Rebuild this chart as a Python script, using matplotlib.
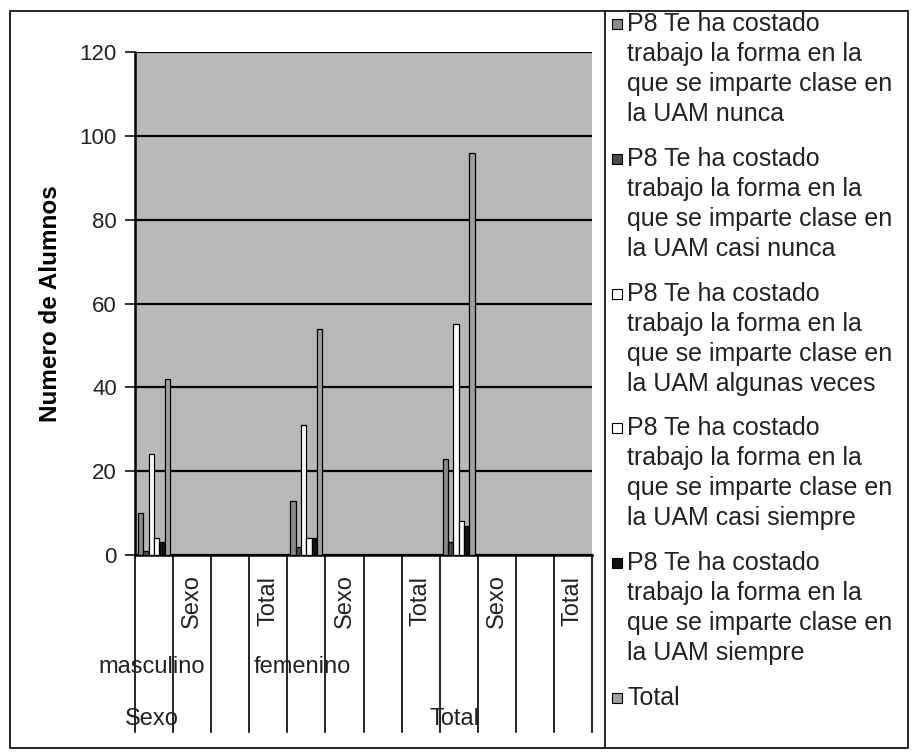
import textwrap
import numpy as np
import matplotlib
matplotlib.use("Agg")
import matplotlib.pyplot as plt
from matplotlib.patches import Rectangle
from matplotlib.lines import Line2D

plt.rcParams['font.family'] = ['Liberation Sans', 'DejaVu Sans']

# data
level1 = ["", "Sexo", "", "Total", "", "Sexo", "", "Total", "", "Sexo", "", "Total"]
level2 = ["masculino", "femenino"]
level2_pos = [-0.05, 3.9]
level3 = ["Sexo", "Total"]
level3_pos = [-0.05, 7.9]

series_names = [
    "P8 Te ha costado trabajo la forma en la que se imparte clase en la UAM nunca",
    "P8 Te ha costado trabajo la forma en la que se imparte clase en la UAM casi nunca",
    "P8 Te ha costado trabajo la forma en la que se imparte clase en la UAM algunas veces",
    "P8 Te ha costado trabajo la forma en la que se imparte clase en la UAM casi siempre",
    "P8 Te ha costado trabajo la forma en la que se imparte clase en la UAM siempre",
    "Total",
]
nunca = [10, 0, 0, 0, 13, 0, 0, 0, 23, 0, 0, 0]
casi_nunca = [1, 0, 0, 0, 2, 0, 0, 0, 3, 0, 0, 0]
algunas = [24, 0, 0, 0, 31, 0, 0, 0, 55, 0, 0, 0]
casi_siempre = [4, 0, 0, 0, 4, 0, 0, 0, 8, 0, 0, 0]
siempre = [3, 0, 0, 0, 4, 0, 0, 0, 7, 0, 0, 0]
total = [42, 0, 0, 0, 54, 0, 0, 0, 96, 0, 0, 0]
series = [nunca, casi_nunca, algunas, casi_siempre, siempre, total]
colors = ["#8a8a8a", "#4a4a4a", "#ffffff", "#ffffff", "#111111", "#a0a0a0"]

W, H = 914, 754
fig = plt.figure(figsize=(W / 100, H / 100), dpi=100)
fig.patch.set_facecolor("white")


def fx(px):
    return px / W


def fy(py):
    return 1 - py / H


ax = fig.add_axes([fx(135), fy(555), (592 - 135) / W, (555 - 52) / H])
ax.set_facecolor("#b8b8b8")

x = np.arange(len(level1))
w = 0.14
for i, (vals, c) in enumerate(zip(series, colors)):
    ax.bar(x + (i - 2.5) * w, vals, w, color=c, edgecolor="black", linewidth=0.9, zorder=3)

ax.set_xlim(-0.5, len(level1) - 0.5)
ax.set_ylim(0, 120)
ax.set_yticks(range(0, 121, 20))
ax.yaxis.grid(True, color="black", linewidth=1.6, zorder=1)
ax.set_axisbelow(True)
ax.tick_params(axis="y", direction="out", length=7, width=1.3, labelsize=16, pad=6, colors="#222222")
ax.set_xticks([])
for s in ["top", "right"]:
    ax.spines[s].set_visible(False)
ax.spines["left"].set_linewidth(1.8)
ax.spines["bottom"].set_linewidth(1.8)
ax.set_ylabel("Numero de Alumnos", fontsize=17.5, fontweight="bold", labelpad=13)

# multi-level category axis
tr = ax.get_xaxis_transform()
ah = 555 - 52
for b in np.arange(len(level1) + 1) - 0.5:
    ax.add_line(Line2D([b, b], [0, -(732 - 555) / ah], transform=tr, color="black",
                       linewidth=1.2, clip_on=False))
for xi, lab in zip(x, level1):
    if lab:
        ax.text(xi, -(601 - 555) / ah, lab, transform=tr, rotation=90, ha="center",
                va="center", fontsize=17, color="#222222")
for xp, lab in zip(level2_pos, level2):
    ax.text(xp, -(667 - 555) / ah, lab, transform=tr, ha="center", va="center",
            fontsize=17, color="#222222")
for xp, lab in zip(level3_pos, level3):
    ax.text(xp, -(719 - 555) / ah, lab, transform=tr, ha="center", va="center",
            fontsize=17, color="#222222")

# frames
fig.add_artist(Rectangle((fx(10), fy(748)), (908 - 10) / W, (748 - 11) / H,
                         transform=fig.transFigure, fill=False, edgecolor="black", linewidth=1.2))
fig.add_artist(Line2D([fx(605), fx(605)], [fy(11), fy(748)], transform=fig.transFigure,
                      color="black", linewidth=1.2))

# legend
entry_y = 24
for name, c in zip(series_names, colors):
    lines = textwrap.wrap(name, 23)
    fig.add_artist(Rectangle((fx(612), fy(entry_y + 5)), 10 / W, 10 / H,
                             transform=fig.transFigure, facecolor=c, edgecolor="black", linewidth=0.8))
    for j, ln in enumerate(lines):
        fig.text(fx(627), fy(entry_y + j * 30), ln, ha="left", va="center",
                 fontsize=18, color="#222222")
    entry_y += 134.8

fig.savefig("out.png", dpi=100)
